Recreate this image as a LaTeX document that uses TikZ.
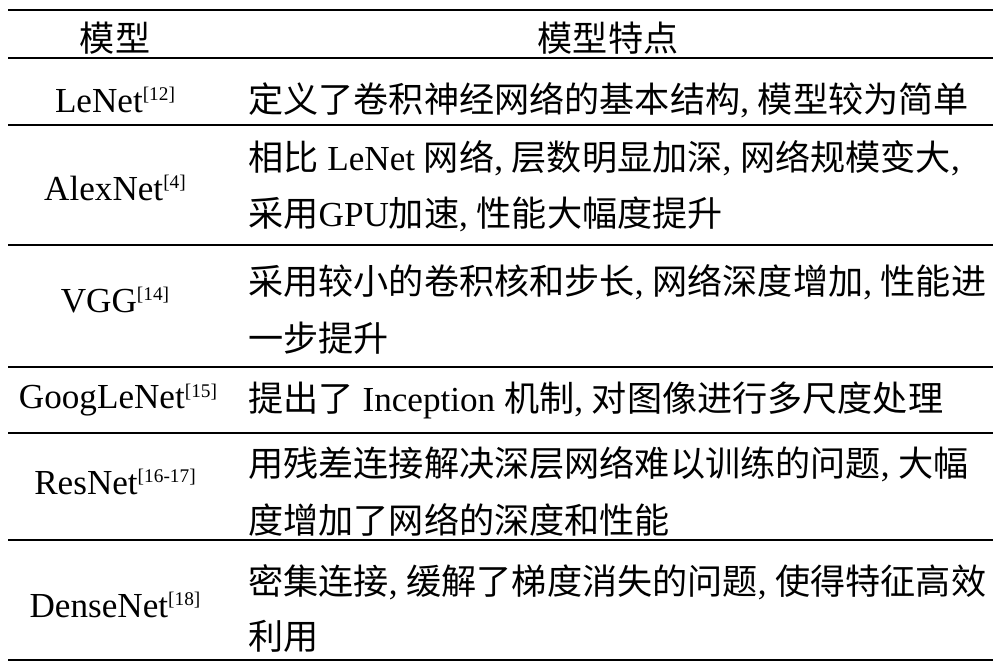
\documentclass[tikz,border=0pt]{standalone}
\usepackage{fontspec}
\setmainfont{Noto Sans CJK SC}
\newfontfamily\lat{Liberation Serif}
\newcommand{\ltx}[1]{{\lat #1}}
\newcommand{\refno}[1]{\raisebox{0.6ex}{\lat\fontsize{11pt}{12pt}\selectfont[#1]}}
\begin{document}
\begin{tikzpicture}[x=0.02cm, y=-0.02cm]
	\tikzset{cell/.style={inner sep=0pt, font=\fontsize{20pt}{24pt}\selectfont},
		txt/.style={cell, anchor=west}};
	\useasboundingbox (0,0) rectangle (1001,670);

	% rules
	\draw[line width=1.6pt] (8,10) -- (993,10);
	\foreach \y in {58,125,245,367,433,540}
		\draw[line width=1pt] (8,\y) -- (993,\y);
	\draw[line width=1.6pt] (8,660) -- (993,660);

	% header
	\node[cell] (h1) at (115,38) {模型};
	\node[cell] (h2) at (608,38) {模型特点};

	\node[cell] (m1) at (115,100) {\ltx{LeNet}\refno{12}};
	\node[txt] (d1) at (248,100) {定义了卷积神经网络的基本结构\ltx{, }模型较为简单};

	\node[cell] (m2) at (115,188) {\ltx{AlexNet}\refno{4}};
	\node[txt] (d2a) at (248,158) {相比\ltx{ LeNet }网络\ltx{, }层数明显加深\ltx{, }网络规模变大\ltx{,}};
	\node[txt] (d2b) at (248,214) {采用\ltx{GPU}加速\ltx{, }性能大幅度提升};

	\node[cell] (m3) at (115,300) {\ltx{VGG}\refno{14}};
	\node[txt] (d3a) at (248,282) {采用较小的卷积核和步长\ltx{, }网络深度增加\ltx{, }性能进};
	\node[txt] (d3b) at (248,338) {一步提升};

	\node[cell] (m4) at (118,400) {\ltx{GoogLeNet}\refno{15}};
	\node[txt] (d4) at (248,400) {提出了\ltx{ Inception }机制\ltx{, }对图像进行多尺度处理};

	\node[cell] (m5) at (115,482) {\ltx{ResNet}\refno{16-17}};
	\node[txt] (d5a) at (248,464) {用残差连接解决深层网络难以训练的问题\ltx{, }大幅};
	\node[txt] (d5b) at (248,520) {度增加了网络的深度和性能};

	\node[cell] (m6) at (115,605) {\ltx{DenseNet}\refno{18}};
	\node[txt] (d6a) at (248,582) {密集连接\ltx{, }缓解了梯度消失的问题\ltx{, }使得特征高效};
	\node[txt] (d6b) at (248,636) {利用};
\end{tikzpicture}
\end{document}
